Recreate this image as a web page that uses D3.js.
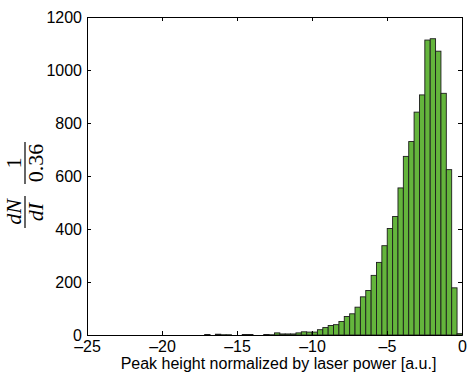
<!DOCTYPE html>
<html>
<head>
<meta charset="utf-8">
<script src="https://cdn.jsdelivr.net/npm/d3@7"></script>
<style>
  body { margin: 0; background: #fff; }
  svg text { font-family: "Liberation Sans", Arial, sans-serif; }
</style>
</head>
<body>
<div id="chart"></div>
<script>
// histogram bins: left edge of first bin and bin width (a.u.)
const binStart = -17.156;
const binWidth = 0.358;
const counts = [
  2, 0, 3, 1, 1, 0, 0, 2, 2, 0, 0, 2, 1, 8, 4, 4, 4, 8, 12, 11, 11, 20, 28, 36,
  39, 51, 70, 80, 105, 144, 168, 225, 274, 337, 402, 447, 555, 674, 730, 841,
  906, 1113, 1118, 1071, 912, 624, 178, 5
];
const xTicks = [-25, -20, -15, -10, -5, 0];
const yTicks = [0, 200, 400, 600, 800, 1000, 1200];
const xLabel = "Peak height normalized by laser power [a.u.]";

const bins = counts.map((c, i) => ({
  x0: binStart + i * binWidth,
  x1: binStart + (i + 1) * binWidth,
  n: c,
}));

const W = 471, H = 374;
const margin = { top: 17, right: 9, bottom: 39, left: 87 };
const width = W - margin.left - margin.right;
const height = H - margin.top - margin.bottom;

const svg = d3.select("#chart").append("svg")
  .attr("width", W).attr("height", H);

const g = svg.append("g")
  .attr("transform", `translate(${margin.left},${margin.top})`);

const x = d3.scaleLinear().domain([-25, 0]).range([0, width]);
const y = d3.scaleLinear().domain([0, 1200]).range([height, 0]);

// bars
g.selectAll(".bar")
  .data(bins)
  .enter()
  .append("rect")
  .attr("class", "bar")
  .attr("x", (d) => x(d.x0))
  .attr("width", (d) => x(d.x1) - x(d.x0))
  .attr("y", (d) => y(d.n))
  .attr("height", (d) => y(0) - y(d.n))
  .attr("fill", "#64b53c")
  .attr("stroke", "#1c1c1c")
  .attr("stroke-width", 0.9);

// axes, ticks inward on all sides
const tickLen = 4;
const axBottom = g.append("g")
  .attr("transform", `translate(0,${height})`)
  .call(d3.axisBottom(x).tickValues(xTicks).tickSizeInner(-tickLen).tickSizeOuter(0)
    .tickPadding(7).tickFormat((d) => d < 0 ? "\u2013" + Math.abs(d) : d));
const axLeft = g.append("g")
  .call(d3.axisLeft(y).tickValues(yTicks).tickSizeInner(-tickLen).tickSizeOuter(0)
    .tickPadding(5).tickFormat(d3.format("d")));
const axTop = g.append("g")
  .call(d3.axisTop(x).tickValues(xTicks).tickSizeInner(-tickLen).tickSizeOuter(0)
    .tickFormat(""));
const axRight = g.append("g")
  .attr("transform", `translate(${width},0)`)
  .call(d3.axisRight(y).tickValues(yTicks).tickSizeInner(-tickLen).tickSizeOuter(0)
    .tickFormat(""));

[axBottom, axLeft, axTop, axRight].forEach((a) => {
  a.select(".domain").attr("stroke", "#000").attr("stroke-width", 1);
  a.selectAll(".tick line").attr("stroke", "#000");
  a.selectAll("text").attr("fill", "#000")
    .style("font-family", "'Liberation Sans', Arial, sans-serif")
    .style("font-size", "16px");
});
axBottom.selectAll("text").attr("dy", "0.62em");
axLeft.selectAll("text").attr("dy", "0.32em");

// x label
g.append("text")
  .attr("x", width / 2 + 4)
  .attr("y", height + 34)
  .attr("text-anchor", "middle")
  .style("font-size", "16px")
  .text(xLabel);

// y label: dN/dI * 1/0.36, rotated
const yl = svg.append("g")
  .attr("transform", "translate(25,186) rotate(-90)")
  .style("font-size", "22px");

function frac(cx, num, den, italic, barW) {
  yl.append("text").attr("x", cx).attr("y", -4).attr("text-anchor", "middle")
    .style("font-family", "'Liberation Serif', serif")
    .style("font-style", italic ? "italic" : "normal").text(num);
  yl.append("line").attr("x1", cx - barW / 2).attr("x2", cx + barW / 2)
    .attr("y1", 0).attr("y2", 0).attr("stroke", "#000").attr("stroke-width", 1.2);
  yl.append("text").attr("x", cx).attr("y", 18).attr("text-anchor", "middle")
    .style("font-family", "'Liberation Serif', serif")
    .style("font-style", italic ? "italic" : "normal").text(den);
}
frac(-26, "dN", "dI", true, 32);
frac(23, "1", "0.36", false, 42);
</script>
</body>
</html>
